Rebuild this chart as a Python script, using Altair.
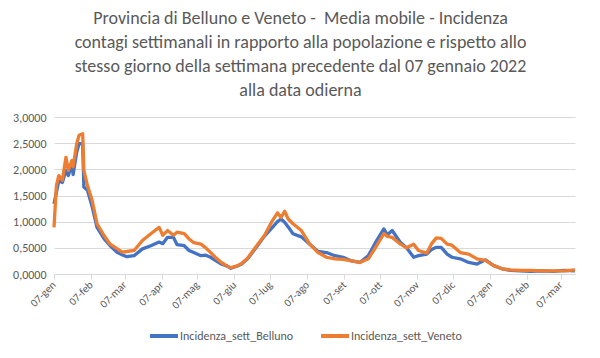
import altair as alt
import pandas as pd

# ---- data ----
dates = [
    "2022-01-07", "2022-01-09", "2022-01-11", "2022-01-14", "2022-01-17", "2022-01-19",
    "2022-01-22", "2022-01-23", "2022-01-26", "2022-01-28", "2022-01-31", "2022-02-01",
    "2022-02-04", "2022-02-08", "2022-02-12", "2022-02-18", "2022-02-23", "2022-03-01",
    "2022-03-05", "2022-03-09", "2022-03-15", "2022-03-22", "2022-03-29", "2022-04-05",
    "2022-04-08", "2022-04-12", "2022-04-17", "2022-04-20", "2022-04-26", "2022-04-30",
    "2022-05-04", "2022-05-10", "2022-05-14", "2022-05-18", "2022-05-22", "2022-05-27",
    "2022-06-01", "2022-06-04", "2022-06-09", "2022-06-13", "2022-06-18", "2022-06-25",
    "2022-07-02", "2022-07-08", "2022-07-13", "2022-07-16", "2022-07-19", "2022-07-22",
    "2022-07-26", "2022-08-02", "2022-08-09", "2022-08-16", "2022-08-23", "2022-08-30",
    "2022-09-06", "2022-09-13", "2022-09-20", "2022-09-27", "2022-10-04", "2022-10-10",
    "2022-10-13", "2022-10-17", "2022-10-24", "2022-10-29", "2022-11-04", "2022-11-08",
    "2022-11-15", "2022-11-19", "2022-11-23", "2022-11-27", "2022-12-02", "2022-12-06",
    "2022-12-13", "2022-12-20", "2022-12-27", "2023-01-03", "2023-01-10", "2023-01-17",
    "2023-01-24", "2023-02-01", "2023-02-10", "2023-02-20", "2023-03-01", "2023-03-10",
    "2023-03-19",
]
belluno = [
    1.34, 1.56, 1.78, 1.75, 1.98, 1.88,
    2.10, 1.90, 2.33, 2.49, 2.49, 1.66,
    1.60, 1.28, 0.89, 0.67, 0.54, 0.41,
    0.37, 0.33, 0.35, 0.48, 0.54, 0.61,
    0.58, 0.70, 0.70, 0.56, 0.54, 0.45,
    0.41, 0.35, 0.36, 0.32, 0.26, 0.19,
    0.15, 0.11, 0.15, 0.19, 0.29, 0.50,
    0.72, 0.87, 1.00, 1.05, 0.99, 0.90,
    0.77, 0.71, 0.57, 0.43, 0.41, 0.35,
    0.32, 0.25, 0.22, 0.35, 0.64, 0.86,
    0.75, 0.83, 0.60, 0.50, 0.32, 0.35,
    0.38, 0.47, 0.51, 0.51, 0.38, 0.32,
    0.29, 0.22, 0.19, 0.27, 0.16, 0.10,
    0.07, 0.06, 0.05, 0.06, 0.05, 0.07,
    0.06,
]
veneto = [
    0.89, 1.69, 1.88, 1.79, 2.23, 1.98,
    2.17, 2.05, 2.49, 2.65, 2.68, 1.98,
    1.69, 1.40, 0.96, 0.73, 0.57, 0.48,
    0.42, 0.43, 0.45, 0.64, 0.77, 0.89,
    0.74, 0.83, 0.74, 0.80, 0.77, 0.67,
    0.60, 0.57, 0.50, 0.41, 0.32, 0.22,
    0.15, 0.12, 0.15, 0.20, 0.30, 0.52,
    0.73, 0.99, 1.17, 1.08, 1.20, 1.05,
    0.96, 0.83, 0.57, 0.41, 0.32, 0.29,
    0.28, 0.25, 0.22, 0.29, 0.54, 0.77,
    0.72, 0.70, 0.57, 0.50, 0.57, 0.45,
    0.40, 0.58, 0.69, 0.68, 0.57, 0.55,
    0.41, 0.38, 0.29, 0.26, 0.16, 0.10,
    0.08, 0.07, 0.07, 0.06, 0.06, 0.06,
    0.08,
]
series_names = ["Incidenza_sett_Belluno", "Incidenza_sett_Veneto"]
series_colors = ["#4472C4", "#ED7D31"]
tick_months = [(2022, m) for m in range(1, 13)] + [(2023, 1), (2023, 2), (2023, 3)]
month_abbr = ["gen", "feb", "mar", "apr", "mag", "giu", "lug", "ago", "set", "ott", "nov", "dic"]
title_lines = [
    "Provincia di Belluno e Veneto - \u00a0Media mobile - Incidenza",
    "contagi settimanali in rapporto alla popolazione e rispetto allo",
    "stesso giorno della settimana precedente dal 07 gennaio 2022",
    "alla data odierna",
]

rows = []
for name, vals in zip(series_names, [belluno, veneto]):
    for d, v in zip(dates, vals):
        rows.append({"data": d + "T00:00:00", "serie": name, "valore": v})
df = pd.DataFrame(rows)

tick_values = [alt.DateTime(year=y, month=m, date=7) for (y, m) in tick_months]
month_expr = "[" + ",".join("'" + a + "'" for a in month_abbr) + "]"

grey = "#595959"
font = "Carlito, Lato, sans-serif"

chart = (
    alt.Chart(df)
    .mark_line(strokeWidth=3.3, strokeJoin="round")
    .encode(
        x=alt.X(
            "data:T",
            scale=alt.Scale(
                domain=[alt.DateTime(year=2022, month=1, date=7),
                        alt.DateTime(year=2023, month=3, date=19)],
                nice=False,
            ),
            axis=alt.Axis(
                title=None,
                values=tick_values,
                labelExpr="timeFormat(datum.value, '%d') + '-' + " + month_expr + "[month(datum.value)]",
                labelAngle=-45,
                labelAlign="right",
                labelBaseline="middle",
                labelPadding=4,
                labelFontSize=11,
                labelColor=grey,
                labelFont=font,
                domainColor="#D9D9D9",
                tickColor="#D9D9D9",
                tickSize=5,
                grid=False,
                labelOverlap=False,
            ),
        ),
        y=alt.Y(
            "valore:Q",
            scale=alt.Scale(domain=[0, 3], nice=False),
            axis=alt.Axis(
                title=None,
                values=[0, 0.5, 1, 1.5, 2, 2.5, 3],
                labelExpr="replace(format(datum.value, '.4f'), '.', ',')",
                labelFontSize=12,
                labelColor=grey,
                labelFont=font,
                labelPadding=8,
                domain=False,
                ticks=False,
                gridColor="#D9D9D9",
                gridWidth=1,
            ),
        ),
        color=alt.Color(
            "serie:N",
            scale=alt.Scale(domain=series_names, range=series_colors),
            legend=alt.Legend(
                title=None,
                orient="none",
                direction="horizontal",
                legendX=94,
                legendY=203,
                symbolType="stroke",
                symbolSize=784,
                symbolStrokeWidth=4,
                labelFontSize=12,
                labelColor=grey,
                labelFont=font,
                columnPadding=19,
                labelOffset=0,
            ),
        ),
        order=alt.Order("data:T"),
    )
    .properties(
        width=521,
        height=157,
        padding={"left": 46, "top": 109, "right": 17, "bottom": 76},
        autosize=alt.AutoSizeParams(type="none"),
        background="white",
        title=alt.TitleParams(
            text=title_lines,
            fontSize=18,
            font=font,
            fontWeight="normal",
            color=grey,
            lineHeight=24,
            anchor="middle",
            frame="group",
            dx=-14,
            offset=11,
        ),
    )
    .configure_view(stroke=None)
)

chart.save("out.html", embed_options={"renderer": "svg", "actions": False})
